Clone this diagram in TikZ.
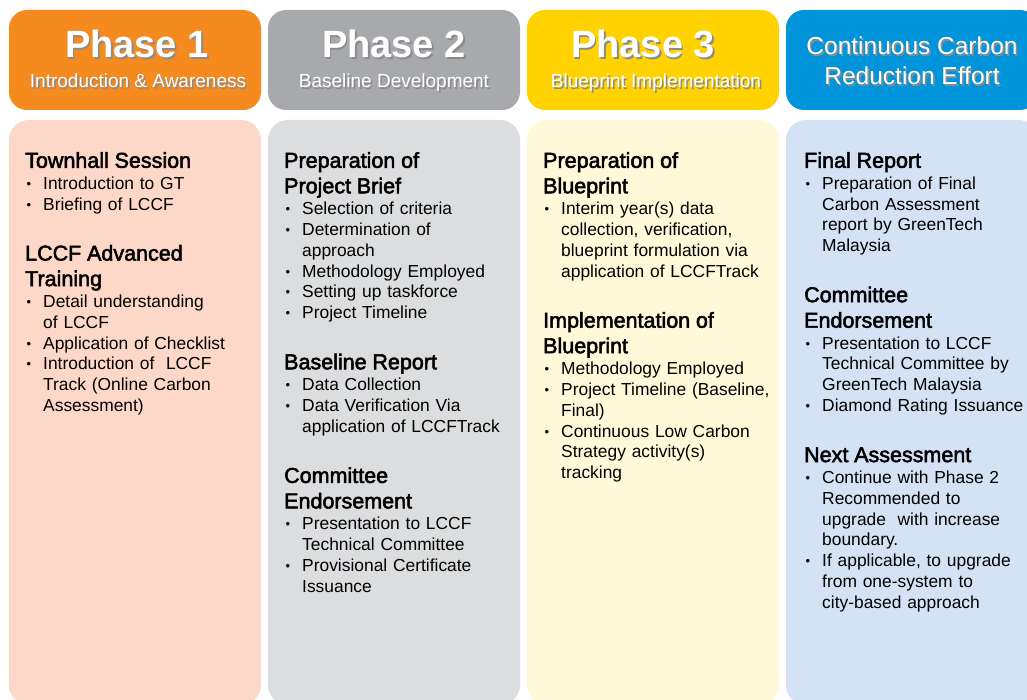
\documentclass[tikz,border=0pt]{standalone}
\usepackage{fontspec}
\setmainfont{Liberation Sans}
\newfontfamily\medfont[FakeBold=2.4]{Liberation Sans}
\usetikzlibrary{positioning,calc}
\setlength{\parindent}{0pt}

\definecolor{headorange}{HTML}{F58A1F}
\definecolor{headgrey}{HTML}{A7A9AC}
\definecolor{headyellow}{HTML}{FFD200}
\definecolor{headblue}{HTML}{0095DA}
\definecolor{bodypink}{HTML}{FDD8C9}
\definecolor{bodygrey}{HTML}{DCDDDF}
\definecolor{bodyyellow}{HTML}{FFF9DA}
\definecolor{bodyblue}{HTML}{D3E2F4}

\newcommand{\shd}[1]{\makebox[0pt][l]{\hspace{1.6pt}\raisebox{-1.6pt}{\textcolor{black!45}{#1}}}#1}
\newcommand{\hd}[1]{{\noindent\medfont\fontsize{21.5}{25.5}\selectfont #1\par}\vspace{0.7pt}}
\newcommand{\bl}{\par\noindent\makebox[18pt][l]{\hspace{1.5pt}\raisebox{1pt}{\fontsize{13}{13}\selectfont •}}}
\newcommand{\cn}{\par\noindent\hspace*{18pt}}
\newcommand{\gap}{\par\vspace{25pt}}

\begin{document}
\begin{tikzpicture}[x=1pt, y=-1pt,
  headbox/.style={rectangle, rounded corners=18pt, minimum width=252pt,
                  minimum height=100pt, inner sep=0pt, outer sep=0pt},
  bodybox/.style={rectangle, rounded corners=20pt, minimum width=252pt,
                  minimum height=585pt, inner sep=0pt, outer sep=0pt},
  phasetitle/.style={anchor=base, text=white, inner sep=0pt,
                     font=\bfseries\fontsize{38}{40}\selectfont},
  phasesub/.style={anchor=base, text=white, inner sep=0pt,
                   font=\fontsize{19}{22}\selectfont},
  bodytext/.style={anchor=north west, inner sep=0pt, text width=250pt,
                   align=left, font=\fontsize{17.4}{20.8}\selectfont}
]
  \useasboundingbox (0,0) rectangle (1027,700);
  \clip (0,0) rectangle (1027,700);

  % Header boxes
  \node[headbox, fill=headorange] (head1) at (135,60) {};
  \node[headbox, fill=headgrey, right=7pt of head1]   (head2) {};
  \node[headbox, fill=headyellow, right=7pt of head2] (head3) {};
  \node[headbox, fill=headblue, right=7pt of head3]   (head4) {};

  % Body boxes
  \node[bodybox, fill=bodypink, below=10pt of head1]   (body1) {};
  \node[bodybox, fill=bodygrey, below=10pt of head2]   (body2) {};
  \node[bodybox, fill=bodyyellow, below=10pt of head3] (body3) {};
  \node[bodybox, fill=bodyblue, below=10pt of head4]   (body4) {};

  % Header texts
  \node[phasetitle] (title1) at ([xshift=2pt, yshift=-47.5pt]head1.north) {\shd{Phase 1}};
  \node[phasesub]   (sub1)   at ([xshift=3pt, yshift=-77.5pt]head1.north) {\shd{Introduction \& Awareness}};
  \node[phasetitle] (title2) at ([yshift=-47.5pt]head2.north) {\shd{Phase 2}};
  \node[phasesub]   (sub2)   at ([yshift=-77.5pt]head2.north) {\shd{Baseline Development}};
  \node[phasetitle] (title3) at ([xshift=-10pt, yshift=-47.5pt]head3.north) {\shd{Phase 3}};
  \node[phasesub]   (sub3)   at ([xshift=3pt, yshift=-77.5pt]head3.north) {\shd{Blueprint Implementation}};
  \node[phasesub, font=\fontsize{24.5}{26}\selectfont] (title4)
       at ([yshift=-45pt]head4.north) {\shd{Continuous Carbon}};
  \node[phasesub, font=\fontsize{24.5}{26}\selectfont] (sub4)
       at ([yshift=-75pt]head4.north) {\shd{Reduction Effort}};

  % Phase 1 content
  \node[bodytext] (list1) at ([xshift=16pt, yshift=-32pt]body1.north west) {%
    \hd{Townhall Session}
    \bl Introduction to GT
    \bl Briefing of LCCF
    \gap\hd{LCCF Advanced\\Training}
    \bl Detail understanding
    \cn of LCCF
    \bl Application of Checklist
    \bl Introduction of~ LCCF
    \cn Track (Online Carbon
    \cn Assessment)};

  % Phase 2 content
  \node[bodytext] (list2) at ([xshift=16pt, yshift=-32pt]body2.north west) {%
    \hd{Preparation of\\Project Brief}
    \bl Selection of criteria
    \bl Determination of
    \cn approach
    \bl Methodology Employed
    \bl Setting up taskforce
    \bl Project Timeline
    \gap\hd{Baseline Report}
    \bl Data Collection
    \bl Data Verification Via
    \cn application of LCCFTrack
    \gap\hd{Committee\\Endorsement}
    \bl Presentation to LCCF
    \cn Technical Committee
    \bl Provisional Certificate
    \cn Issuance};

  % Phase 3 content
  \node[bodytext] (list3) at ([xshift=16pt, yshift=-32pt]body3.north west) {%
    \hd{Preparation of\\Blueprint}
    \bl Interim year(s) data
    \cn collection, verification,
    \cn blueprint formulation via
    \cn application of LCCFTrack
    \gap\hd{Implementation of\\Blueprint}
    \bl Methodology Employed
    \bl Project Timeline (Baseline,
    \cn Final)
    \bl Continuous Low Carbon
    \cn Strategy activity(s)
    \cn tracking};

  % Continuous effort content
  \node[bodytext] (list4) at ([xshift=18pt, yshift=-32pt]body4.north west) {%
    \hd{Final Report}
    \bl Preparation of Final
    \cn Carbon Assessment
    \cn report by GreenTech
    \cn Malaysia
    \gap\hd{Committee\\Endorsement}
    \bl Presentation to LCCF
    \cn Technical Committee by
    \cn GreenTech Malaysia
    \bl Diamond Rating Issuance
    \gap\hd{Next Assessment}
    \bl Continue with Phase 2
    \cn Recommended to
    \cn upgrade~ with increase
    \cn boundary.
    \bl If applicable, to upgrade
    \cn from one-system to
    \cn city-based approach};
\end{tikzpicture}
\end{document}
